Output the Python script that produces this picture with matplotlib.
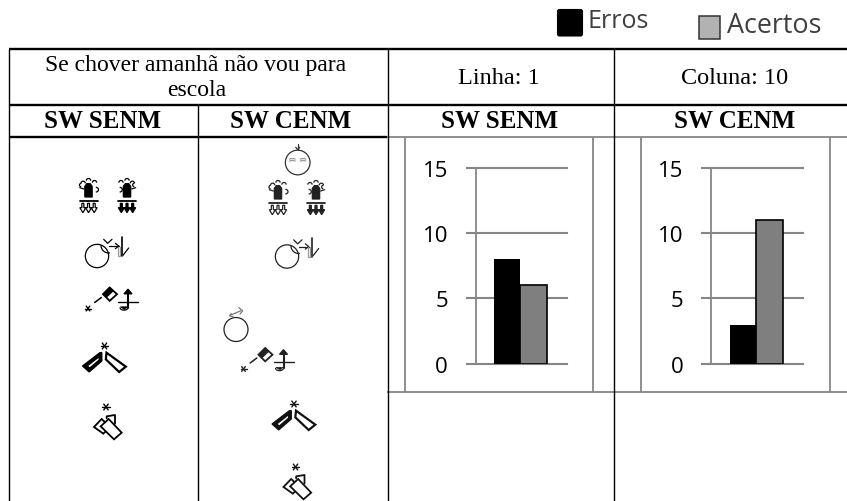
import matplotlib
matplotlib.use("Agg")
import matplotlib.pyplot as plt
from matplotlib.patches import Circle, Arc, Rectangle, Polygon, FancyBboxPatch
from matplotlib.lines import Line2D

W, H = 847, 502
series_names = ["Erros", "Acertos"]
panel_names = ["SW SENM", "SW CENM"]
erros = [8, 3]
acertos = [6, 11]
y_ticks = [0, 5, 10, 15]
GRID = "#868686"
SERIF = "Liberation Serif"
SANS = "Open Sans"

fig = plt.figure(figsize=(W / 100, H / 100), dpi=100, facecolor="white")
bg = fig.add_axes([0, 0, 1, 1])
bg.set_xlim(0, W)
bg.set_ylim(H, 0)
bg.axis("off")


def ln(x0, y0, x1, y1, c="black", lw=1.0):
    bg.add_line(Line2D([x0, x1], [y0, y1], color=c, lw=lw, solid_capstyle="butt"))


# table rules
for y, lw in ((50, 1.7), (106, 1.7)):
    ln(9, y, W, y, lw=lw)
ln(9, 138, 387, 138, lw=1.7)
ln(387, 138, W, 138, GRID, 1.3)
ln(387, 393, W, 393, GRID, 1.3)
for x in (405, 592.7, 641, 830):
    ln(x, 138, x, 393, GRID, 1.3)
ln(9, 50, 9, H, lw=1.0)
ln(197.5, 106, 197.5, H, lw=1.0)
ln(387.5, 50, 387.5, H, lw=1.0)
ln(613.5, 50, 613.5, H, lw=1.0)

# table text
kw = dict(family=SERIF, ha="center", va="center", color="black")
bg.text(196, 66, "Se chover amanhã não vou para", fontsize=17, **kw)
bg.text(197, 91, "escola", fontsize=17, **kw)
bg.text(499, 78, "Linha: 1", fontsize=17.5, **kw)
bg.text(735, 78, "Coluna: 10", fontsize=17.5, **kw)
for x, name in zip((102.5, 291, 500, 735), panel_names * 2):
    bg.text(x, 122, name, fontsize=18, fontweight="bold", **kw)

# legend
bg.add_patch(FancyBboxPatch((557.5, 10.5), 25, 26.5, boxstyle="round,pad=0,rounding_size=2",
                            fc="black", ec="black", lw=0.8))
bg.add_patch(Rectangle((698.5, 16.5), 21, 23.5, fc="#b2b2b2", ec="#333333", lw=1.1))
bg.text(588, 21, series_names[0], family=SANS, fontsize=18, color="#404040", va="center", ha="left")
bg.text(727, 26, series_names[1], family=SANS, fontsize=19.4, color="#404040", va="center", ha="left")


# bar panels
def panel(left, right, x_off, i):
    top, bottom = 168.7, 364.7
    ax = fig.add_axes([left / W, 1 - bottom / H, (right - left) / W, (bottom - top) / H])
    ax.patch.set_alpha(0)
    bw = 26.5 / (right - left)
    ax.bar([-bw / 2 + x_off], [erros[i]], bw, color="black", zorder=3)
    ax.bar([bw / 2 + x_off], [acertos[i]], bw, color="#7f7f7f", edgecolor="black", lw=1.2, zorder=3)
    ax.set_xlim(-0.5, 0.5)
    ax.set_ylim(0, 15)
    ax.set_yticks(y_ticks)
    ax.set_xticks([])
    ax.tick_params(axis="y", length=7.2, width=1.5, color=GRID, pad=13, labelsize=16, labelcolor="black")
    for t in ax.get_yticklabels():
        t.set_family(SANS)
    ax.grid(axis="y", color=GRID, lw=1.5, zorder=1)
    ax.set_axisbelow(True)
    for s in ("top", "right", "bottom"):
        ax.spines[s].set_visible(False)
    ax.spines["left"].set_color(GRID)
    ax.spines["left"].set_linewidth(1.3)
    for s in ax.get_ygridlines():
        s.set_clip_on(False)


panel(476, 566.7, -0.013, 0)
panel(711.3, 802.7, -0.01, 1)


# sign glyphs (drawn in zoomed-crop units relative to an origin)
class G:
    def __init__(self, ox, oy, c="black", lw=0.9):
        self.ox, self.oy, self.c, self.lw = ox, oy, c, lw

    def p(self, x, y):
        return self.ox + x / 3, self.oy + y / 3

    def line(self, *pts, lw=None, c=None):
        xy = [self.p(*q) for q in pts]
        bg.add_line(Line2D([a for a, _ in xy], [b for _, b in xy], color=c or self.c, lw=lw or self.lw,
                           solid_capstyle="round"))

    def poly(self, *pts, fill=False, lw=None):
        xy = [self.p(*q) for q in pts]
        bg.add_patch(Polygon(xy, closed=True, fc=self.c if fill else "white", ec=self.c, lw=lw or self.lw))

    def circ(self, x, y, r):
        bg.add_patch(Circle(self.p(x, y), r / 3, fc="none", ec=self.c, lw=self.lw))

    def arc(self, x, y, w, h, a0, a1, c=None):
        # angles are given as seen on screen; the pixel axes run downwards
        bg.add_patch(Arc(self.p(x, y), w / 3, h / 3, theta1=-a1, theta2=-a0, ec=c or self.c, lw=self.lw))

    def star(self, x, y, r=11):
        self.line((x - r, y), (x + r, y), lw=1.0)
        self.line((x - r * .6, y - r * .8), (x + r * .6, y + r * .8), lw=1.0)
        self.line((x - r * .6, y + r * .8), (x + r * .6, y - r * .8), lw=1.0)


def hand(ox, oy, filled, flip=False, c="black"):
    s = -1 if flip else 1
    g = G(ox, oy, c)
    g.poly((-11, 60), (-11, 28), (-5, 20), (5, 20), (11, 28), (11, 60), fill=True)
    for dx, dy in ((-16, 14), (0, 6), (18, 12)):
        g.arc(s * dx, dy + 5, 13, 13, 0, 180)
    g.arc(s * 22, 38, 16, 14, 270, 90 + 360)
    g.line((-26 * s, 32), (-14 * s, 36))
    g.arc(-s * 22, 24, 10, 10, 90, 270)
    g.line((-27, 73), (27, 73), lw=1.3)
    for dx in (-17, 0, 17):
        g.poly((dx - 3, 79), (dx + 3, 79), (dx + 3, 92), (dx + 9, 92), (dx, 107), (dx - 9, 92), (dx - 3, 92),
               fill=filled)


def hook(ox, oy, c="black"):
    g = G(ox, oy, c)
    g.circ(0, 0, 35)
    g.arc(35, -32, 46, 46, 180, 280)
    g.line((20, -50), (32, -38), (45, -50))
    g.line((35, -30), (65, -30))
    g.line((55, -38), (65, -30), (55, -22))
    g.line((62, -28), (62, 0), (70, 0), (70, -28), c="#9a9a9a")
    g.line((75, -57), (75, 0), lw=1.2)
    g.line((78, -2), (95, -24))


def pointer(ox, oy, c="black"):
    g = G(ox, oy, c)
    g.star(0, 0, 9)
    g.line((20, -18), (40, -33), lw=1.1)
    g.poly((45, -43), (65, -63), (87, -43), (65, -23), lw=1.3)
    g.poly((45, -43), (65, -63), (76, -53), (55, -33), fill=True, lw=0.6)
    g.line((90, -21), (150, -21), lw=1.0)
    g.line((120, -50), (120, -3), lw=1.5)
    g.poly((108, -44), (120, -58), (132, -44), fill=True)
    g.arc(108, -3, 24, 16, 180, 360)
    g.poly((97, -5), (110, 3), (118, -5), fill=True, lw=0.5)


def fingers(ox, oy, c="black"):
    g = G(ox, oy, c)
    g.star(0, 0, 11)
    g.poly((-14, 20), (-66, 60), (-46, 78), (-8, 45), (-8, 20), fill=True)
    g.poly((-16, 32), (-52, 60), (-44, 66), (-16, 42))
    g.poly((6, 20), (64, 62), (44, 78), (4, 40), lw=1.6)


def outline(ox, oy, c="black"):
    g = G(ox, oy, c)
    g.star(0, 0, 11)
    g.poly((-36, 60), (-13, 36), (12, 60), (-8, 80), lw=1.3)
    g.poly((47, 77), (24, 97), (-16, 58), (8, 36), lw=1.3)
    g.line((2, 34), (2, 28), (27, 24), (27, 50), lw=1.3)


# left column
hand(88.5, 178, False)
hand(127, 178, True, flip=True)
hook(97, 257)
pointer(88, 309.5)
fingers(104.5, 347)
outline(106, 408)

# right column
top = G(297.7, 163.5, "#333333")
top.circ(0, 0, 37)
top.line((0, -55), (0, -38))
top.line((-6, -46), (0, -38), (6, -46))
for dx in (-16, 16):
    top.arc(dx, -4, 26, 16, 30, 150, c="#999999")
    top.arc(dx, 2, 26, 16, 30, 150, c="#999999")
hand(278, 180, False, c="#222222")
hand(316, 180, True, flip=True, c="#222222")
hook(287, 257.5, "#222222")
turn = G(236, 330.5, "#222222")
turn.circ(0, 0, 36)
turn.line((-14, -44), (14, -56), c="#777777")
turn.line((-14, -48), (-20, -41), (-8, -38), c="#777777")
turn.line((8, -66), (20, -56), (12, -46), c="#777777")
pointer(243.5, 370, "#222222")
fingers(294, 405, "#111111")
outline(295.5, 468, "#111111")

fig.savefig("out.png", dpi=100)
